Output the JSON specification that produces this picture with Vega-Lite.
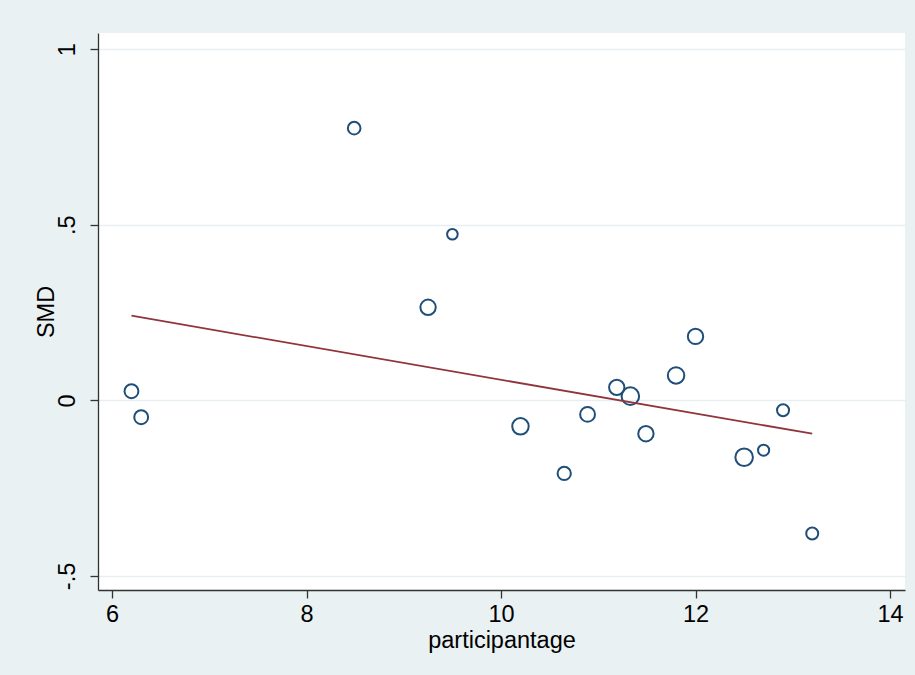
{
  "$schema": "https://vega.github.io/schema/vega-lite/v6.json",
  "width": 807,
  "height": 557,
  "autosize": {"type": "none"},
  "padding": {"left": 98, "top": 33, "right": 10, "bottom": 85},
  "background": "#e9f1f3",
  "config": {
    "view": {"fill": "white", "stroke": null}
  },
  "datasets": {
    "studies": [
      {"age": 6.2, "smd": 0.026, "weight": 48},
      {"age": 6.3, "smd": -0.048, "weight": 48},
      {"age": 8.49, "smd": 0.775, "weight": 40},
      {"age": 9.5, "smd": 0.473, "weight": 28},
      {"age": 9.25, "smd": 0.265, "weight": 59},
      {"age": 10.2, "smd": -0.074, "weight": 68},
      {"age": 10.65, "smd": -0.208, "weight": 44},
      {"age": 10.89, "smd": -0.04, "weight": 55},
      {"age": 11.19, "smd": 0.037, "weight": 59},
      {"age": 11.33, "smd": 0.012, "weight": 77},
      {"age": 11.49, "smd": -0.095, "weight": 59},
      {"age": 11.8, "smd": 0.071, "weight": 68},
      {"age": 12.0, "smd": 0.182, "weight": 59},
      {"age": 12.5, "smd": -0.162, "weight": 77},
      {"age": 12.7, "smd": -0.142, "weight": 31},
      {"age": 12.9, "smd": -0.028, "weight": 36},
      {"age": 13.2, "smd": -0.379, "weight": 36}
    ],
    "fit": [
      {"age": 6.2, "fitted": 0.241},
      {"age": 13.2, "fitted": -0.095}
    ]
  },
  "layer": [
    {
      "data": {"name": "studies"},
      "mark": {"type": "point", "shape": "circle", "filled": false, "stroke": "#1f4e79", "strokeWidth": 2, "opacity": 1},
      "encoding": {
        "x": {
          "field": "age", "type": "quantitative",
          "scale": {"domain": [5.856, 14.154], "nice": false, "zero": false},
          "axis": {
            "values": [6, 8, 10, 12, 14], "format": "d", "grid": false,
            "title": "participantage", "labelPadding": 4, "titlePadding": 3,
            "labelFont": "Liberation Sans", "titleFont": "Liberation Sans",
            "labelFontSize": 23.5, "titleFontSize": 23.5, "titleFontWeight": "normal",
            "labelColor": "#000000", "titleColor": "#000000",
            "domainColor": "#333333", "domainWidth": 1.3,
            "tickColor": "#333333", "tickWidth": 1.3, "tickSize": 8
          }
        },
        "y": {
          "field": "smd", "type": "quantitative",
          "scale": {"domain": [-0.54, 1.046], "nice": false, "zero": false},
          "axis": {
            "values": [-0.5, 0, 0.5, 1],
            "grid": true, "gridColor": "#e6eef1", "gridWidth": 1.5,
            "labelAngle": 270, "labelAlign": "center", "labelBaseline": "bottom",
            "labelPadding": 11,
            "labelExpr": "datum.value == 0.5 ? '.5' : datum.value == -0.5 ? '-.5' : datum.value == 1 ? '1' : '0'",
            "title": "SMD", "titleX": -40,
            "labelFont": "Liberation Sans", "titleFont": "Liberation Sans",
            "labelFontSize": 23.5, "titleFontSize": 23.5, "titleFontWeight": "normal",
            "labelColor": "#000000", "titleColor": "#000000",
            "domainColor": "#333333", "domainWidth": 1.3,
            "tickColor": "#333333", "tickWidth": 1.3, "tickSize": 8
          }
        },
        "size": {
          "field": "weight", "type": "quantitative",
          "scale": {"domain": [0, 100], "range": [0, 400], "zero": true},
          "legend": null
        }
      }
    },
    {
      "data": {"name": "fit"},
      "mark": {"type": "line", "color": "#90353b", "strokeWidth": 1.8},
      "encoding": {
        "x": {"field": "age", "type": "quantitative"},
        "y": {"field": "fitted", "type": "quantitative"}
      }
    }
  ]
}
